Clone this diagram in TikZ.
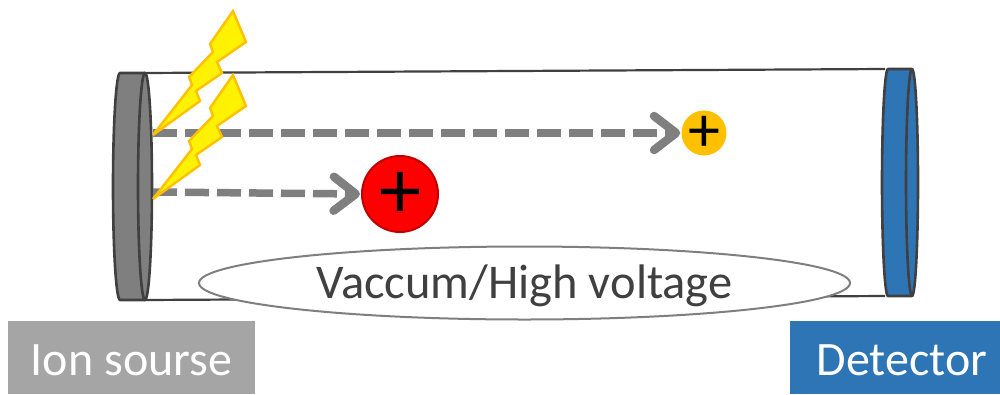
\documentclass[tikz,border=0pt]{standalone}
\usepackage{fontspec}
\setmainfont{Carlito}
\usetikzlibrary{arrows.meta,shapes.geometric}
\definecolor{discgray}{HTML}{7F7F7F}
\definecolor{edgegray}{HTML}{404040}
\definecolor{labelgray}{HTML}{A5A5A5}
\definecolor{detblue}{HTML}{2E75B6}
\definecolor{boltorange}{HTML}{FFC000}
\tikzset{
  tube/.style={draw=edgegray,line width=2.2pt},
  disc/.style={draw=edgegray,line width=2.6pt,line join=round},
  bolt/.style={draw=boltorange,fill=yellow,line width=2.4pt,line join=miter,miter limit=6},
  beam/.style={draw=discgray,line width=7.5pt,dash pattern=on 24pt off 8pt,
    -{Straight Barb[length=22pt,width=34pt,round,line width=8.5pt]},shorten >=1pt},
  labelbox/.style={minimum height=73pt,inner sep=0pt,text=white,font=\fontsize{48}{48}\selectfont},
  ion/.style={circle,inner sep=0pt,text=black},
}
\begin{document}
\begin{tikzpicture}[x=1pt,y=-1pt]
\useasboundingbox (0,0) rectangle (1000,394);
% tube
\draw[tube] (144,73) -- (885,69);
\draw[tube] (144,300) -- (885,296);
% left disc
\draw[disc,fill=discgray] (120,73) arc[start angle=90,end angle=270,x radius=7pt,y radius=113.5pt] -- (145,300) -- (145,73) -- cycle;
\draw[disc,fill=discgray] (145,186.5) ellipse [x radius=7pt,y radius=113.5pt];
% right disc
\draw[disc,fill=detblue] (888,69) arc[start angle=90,end angle=270,x radius=6pt,y radius=113.5pt] -- (912,296) -- (912,69) -- cycle;
\draw[disc,fill=detblue] (912,182.5) ellipse [x radius=6pt,y radius=113.5pt];
% ions
\node[ion,draw=red!75!black,line width=2pt,fill=red,minimum size=76pt] (big) at (400,194) {};
\node[ion,fill=boltorange,minimum size=45pt] (small) at (704,133) {};
\node[font=\fontsize{84}{84}\selectfont] (bigplus) at (400,195.5) {+};
\node[font=\fontsize{64}{64}\selectfont] (smallplus) at (704,134) {+};
% beams
\coordinate (s1) at (153,133);
\coordinate (s2) at (153,192);
\draw[beam] (s1) -- (small.west);
\draw[beam] (s2) -- (big.west);
% bolts
\foreach \dy in {0,64}{
\draw[bolt,yshift=-\dy pt] (233,11) -- (246,42) -- (217,62) -- (222,73) -- (196,91) -- (200,101) -- (153,135)
  -- (192,85) -- (189,77) -- (213,52) -- (210,44) -- cycle;
}
% vacuum label
\node[ellipse,draw=discgray,line width=2pt,fill=white,minimum width=651pt,minimum height=73pt,inner sep=0pt,
  text=edgegray,font=\fontsize{48.5}{48.5}\selectfont] (vac) at (524.5,283) {\raisebox{-15pt}[0pt][0pt]{Vaccum/High voltage}};
% boxes
\node[labelbox,fill=labelgray,minimum width=247pt] (src) at (131.5,357.5) {\raisebox{-17.5pt}[0pt][0pt]{Ion sourse}};
\node[labelbox,fill=detblue,minimum width=210pt] (det) at (895,357.5) {\hspace{14pt}\raisebox{-17.5pt}[0pt][0pt]{Detector}};
\end{tikzpicture}
\end{document}
